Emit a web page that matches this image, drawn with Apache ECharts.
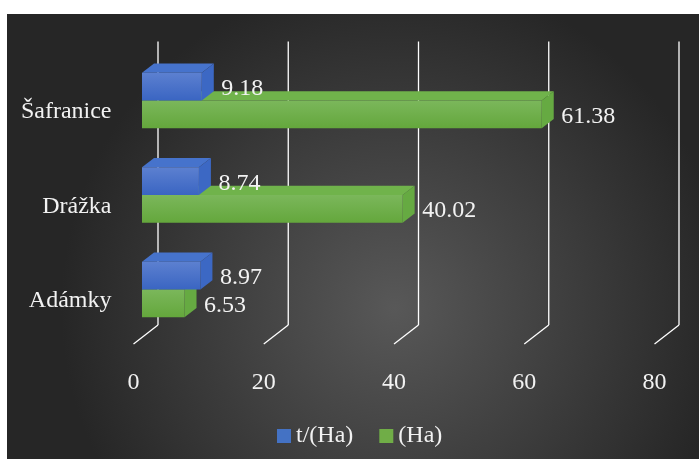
<!DOCTYPE html>
<html>
<head>
<meta charset="utf-8">
<script src="https://cdn.jsdelivr.net/npm/echarts@6/dist/echarts.min.js"></script>
<style>
  html, body { margin: 0; padding: 0; background: #ffffff; }
  #chart { width: 699px; height: 459px; }
</style>
</head>
<body>
<div id="chart"></div>
<script>
// Field names, bottom to top on the category axis
const categories = ['Adámky', 'Drážka', 'Šafranice'];
// Yield per hectare
const yieldT = [8.97, 8.74, 9.18];
// Area in hectares
const areaHa = [6.53, 40.02, 61.38];
// Value axis ticks
const xTicks = [0, 20, 40, 60, 80];
const seriesNames = ['t/(Ha)', '(Ha)'];

const FONT = 'Liberation Serif';
const FS = 24;
const TEXT = '#f2f2f2';

// 3D floor depth (front axis plane -> back wall)
const WALL_DX = 24.5, WALL_DY = -19;
const FLOOR_INSET = 4;   // front floor edge sits just above the grid bottom
const WALL_RISE = 23;    // back wall top above the grid top
// Bars sit part way into the floor
const BAR_DX = 8.5, BAR_DY = -11.2;
const BOX_DX = 12, BOX_DY = -9.3;

const palettes = {
  blue: { frontTop: '#5c80d0', frontBottom: '#3a65c2', top: '#4673cc', side: '#3c68c4' },
  green: { frontTop: '#7bb75b', frontBottom: '#64a73c', top: '#70b34b', side: '#66aa42' }
};

function boxRenderer(pal, upper) {
  return function (params, api) {
    const val = api.value(0);
    const cat = api.value(1);
    const base = api.coord([0, cat]);
    const end = api.coord([val, cat]);
    const band = api.size([0, 1])[1];
    const h = band * 0.293;
    const mid = base[1] + BAR_DY;
    const top = upper ? mid - h : mid;
    const bottom = upper ? mid : mid + h;
    const x0 = base[0] + BAR_DX;
    const x1 = end[0] + BAR_DX;
    const grad = new echarts.graphic.LinearGradient(0, 0, 0, 1, [
      { offset: 0, color: pal.frontTop },
      { offset: 1, color: pal.frontBottom }
    ]);
    return {
      type: 'group',
      children: [
        { type: 'polygon', shape: { points: [[x0, top], [x0 + BOX_DX, top + BOX_DY], [x1 + BOX_DX, top + BOX_DY], [x1, top]] }, style: { fill: pal.top } },
        { type: 'polygon', shape: { points: [[x1, top], [x1 + BOX_DX, top + BOX_DY], [x1 + BOX_DX, bottom + BOX_DY], [x1, bottom]] }, style: { fill: pal.side } },
        { type: 'rect', shape: { x: x0, y: top, width: x1 - x0, height: bottom - top }, style: { fill: grad } },
        { type: 'text', x: x1 + 19.5, y: (top + bottom) / 2 + 2,
          style: { text: val.toFixed(2), fill: TEXT, fontFamily: FONT, fontSize: FS, align: 'left', verticalAlign: 'middle' } }
      ]
    };
  };
}

function frameRenderer(params, api) {
  const cs = params.coordSys;
  const p = api.coord([api.value(0), 0]);
  const x = p[0];
  const yTop = cs.y - WALL_RISE - WALL_DY;
  const yBot = cs.y + cs.height - FLOOR_INSET;
  const st = { stroke: '#ffffff', lineWidth: 1.3 };
  return {
    type: 'group',
    children: [
      { type: 'line', shape: { x1: x + WALL_DX, y1: yTop + WALL_DY, x2: x + WALL_DX, y2: yBot + WALL_DY }, style: st },
      { type: 'line', shape: { x1: x, y1: yBot, x2: x + WALL_DX, y2: yBot + WALL_DY }, style: st }
    ]
  };
}

const chart = echarts.init(document.getElementById('chart'), null, { renderer: 'canvas' });
chart.setOption({
  backgroundColor: '#ffffff',
  animation: false,
  textStyle: { fontFamily: FONT },
  graphic: [{
    type: 'rect', z: -10, silent: true,
    shape: { x: 7, y: 14, width: 692, height: 445 },
    style: {
      fill: new echarts.graphic.RadialGradient(0.56, 0.66, 0.75, [
        { offset: 0, color: '#585858' },
        { offset: 1, color: '#262626' }
      ])
    }
  }],
  grid: { left: 133.5, right: 44.5, top: 64.5, bottom: 111, containLabel: false },
  xAxis: {
    type: 'value', min: 0, max: 80, interval: 20,
    axisLine: { show: false }, axisTick: { show: false }, splitLine: { show: false },
    axisLabel: { color: TEXT, fontFamily: FONT, fontSize: FS, margin: 23 }
  },
  yAxis: {
    type: 'category', data: categories,
    axisLine: { show: false }, axisTick: { show: false }, splitLine: { show: false },
    axisLabel: { color: TEXT, fontFamily: FONT, fontSize: FS, margin: 22 }
  },
  legend: {
    data: seriesNames,
    left: 277, top: 424, padding: 0,
    icon: 'rect', itemWidth: 14, itemHeight: 14, itemGap: 26,
    textStyle: { color: TEXT, fontFamily: FONT, fontSize: FS }
  },
  series: [
    {
      name: 'frame', type: 'custom', silent: true, z: 1,
      renderItem: frameRenderer,
      encode: { x: 0, y: 1 },
      data: xTicks.map(t => [t, 0])
    },
    {
      name: seriesNames[1], type: 'custom', z: 2,
      itemStyle: { color: '#70ad47' },
      renderItem: boxRenderer(palettes.green, false),
      encode: { x: 0, y: 1 },
      data: areaHa.map((v, i) => [v, i])
    },
    {
      name: seriesNames[0], type: 'custom', z: 3,
      itemStyle: { color: '#4472c4' },
      renderItem: boxRenderer(palettes.blue, true),
      encode: { x: 0, y: 1 },
      data: yieldT.map((v, i) => [v, i])
    }
  ]
});
</script>
</body>
</html>
